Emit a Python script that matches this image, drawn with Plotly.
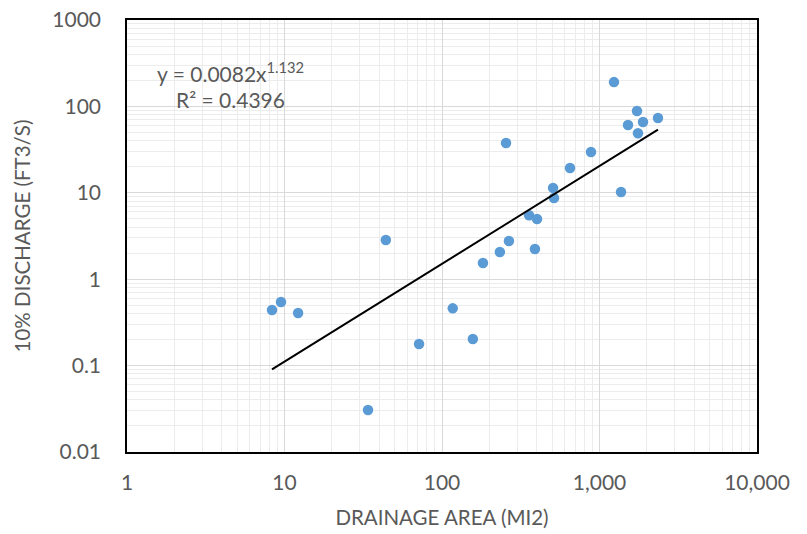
import plotly.graph_objects as go
import numpy as np

# Data
drainage_area = [8.33, 9.5, 12.2, 33.9, 44, 71.5, 117, 157, 182, 233, 266, 255,
                 357, 401, 389, 507, 514, 650, 883, 1236, 1370, 1517, 1730,
                 1755, 1889, 2351]
discharge_10 = [0.44, 0.545, 0.406, 0.0306, 2.84, 0.178, 0.46, 0.203, 1.54,
                2.06, 2.77, 37.7, 5.5, 4.98, 2.24, 11.4, 8.7, 19.4, 29.7, 191,
                10.2, 61, 88.5, 49, 66, 73.4]

# Power trendline y = a * x^b
trend_a = 0.0082
trend_b = 1.132
r_squared = 0.4396

x_tickvals = [1, 10, 100, 1000, 10000]
x_ticktext = ["1", "10", "100", "1,000", "10,000"]
y_tickvals = [0.01, 0.1, 1, 10, 100, 1000]
y_ticktext = ["0.01", "0.1", "1", "10", "100", "1000"]

x_title = "DRAINAGE AREA (MI2)"
y_title = "10% DISCHARGE (FT3/S)"

trend_x = np.logspace(np.log10(min(drainage_area)), np.log10(max(drainage_area)), 50)
trend_y = trend_a * trend_x ** trend_b

def minor_vals(lo, hi):
    vals = []
    for e in range(lo, hi):
        for m in range(2, 10):
            vals.append(m * 10.0 ** e)
    return vals

FONT = "Lato"
GRAY = "#595959"

fig = go.Figure()
fig.add_trace(go.Scatter(
    x=drainage_area, y=discharge_10, mode="markers",
    marker=dict(color="#5B9BD5", size=10.5, line=dict(width=0)),
    showlegend=False, hoverinfo="x+y"))
fig.add_trace(go.Scatter(
    x=trend_x, y=trend_y, mode="lines",
    line=dict(color="black", width=2), showlegend=False, hoverinfo="skip"))

fig.add_annotation(
    x=0.1635, y=0.88, xref="paper", yref="paper",
    xanchor="center", yanchor="middle",
    text="y = %sx<sup>%s</sup>" % (trend_a, trend_b),
    showarrow=False, font=dict(family=FONT, size=21, color=GRAY))
fig.add_annotation(
    x=0.165, y=0.817, xref="paper", yref="paper",
    xanchor="center", yanchor="middle",
    text="R² = %s" % r_squared,
    showarrow=False, font=dict(family=FONT, size=21, color=GRAY))

axis_common = dict(
    showline=True, mirror=True, linecolor="black", linewidth=1.5,
    showgrid=True, gridcolor="#d9d9d9", gridwidth=1.3,
    zeroline=False, ticks="", automargin=False,
    ticklabeloverflow="allow",
    tickfont=dict(family=FONT, size=21, color=GRAY),
    title_font=dict(family=FONT, size=20.5, color=GRAY),
)

fig.update_xaxes(
    type="log", range=[0, 4], tickmode="array",
    tickvals=x_tickvals, ticktext=x_ticktext,
    ticklabelstandoff=11,
    minor=dict(tickmode="array", tickvals=minor_vals(0, 4),
               showgrid=True, gridcolor="#ececec", gridwidth=1, ticks=""),
    title=dict(text=x_title, standoff=18),
    **axis_common)
fig.update_yaxes(
    type="log", range=[-2, 3], tickmode="array",
    tickvals=y_tickvals, ticktext=y_ticktext,
    ticklabelstandoff=20,
    minor=dict(tickmode="array", tickvals=minor_vals(-2, 3),
               showgrid=True, gridcolor="#ececec", gridwidth=1, ticks=""),
    title=dict(text=y_title, standoff=16),
    **axis_common)

fig.update_layout(
    width=807, height=534,
    margin=dict(l=127, r=50, t=20, b=82),
    plot_bgcolor="white", paper_bgcolor="white",
    font=dict(family=FONT, color=GRAY),
)

fig.write_html(
    "out.html",
    config={"displayModeBar": False},
    post_script="document.body.style.margin='0';document.body.style.overflow='hidden';",
)
